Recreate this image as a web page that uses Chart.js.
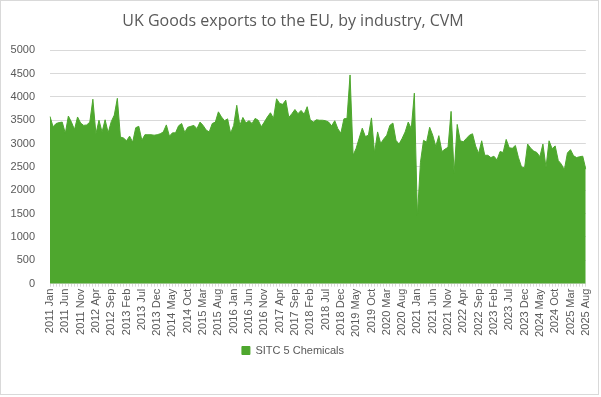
<!DOCTYPE html>
<html>
<head>
<meta charset="utf-8">
<script src="https://cdn.jsdelivr.net/npm/chart.js@4"></script>
<style>
  html, body { margin: 0; padding: 0; background: #fff; }
  #wrap { width: 601px; height: 397px; position: relative; }
</style>
</head>
<body>
<div id="wrap"><canvas id="myChart" width="601" height="397"></canvas></div>
<script>
// monthly values, Jan..Dec
const exports2011 = [3580, 3360, 3430, 3450, 3460, 3220, 3590, 3460, 3300, 3570, 3440, 3390];
const exports2012 = [3400, 3460, 3950, 3210, 3500, 3250, 3510, 3230, 3470, 3610, 3970, 3140];
const exports2013 = [3120, 3060, 3160, 3030, 3340, 3370, 3070, 3190, 3190, 3190, 3180, 3190];
const exports2014 = [3210, 3250, 3400, 3160, 3230, 3230, 3380, 3430, 3240, 3350, 3370, 3390];
const exports2015 = [3320, 3460, 3390, 3290, 3250, 3430, 3460, 3680, 3570, 3490, 3530, 3220];
const exports2016 = [3390, 3820, 3390, 3560, 3440, 3490, 3430, 3540, 3500, 3360, 3460, 3570];
const exports2017 = [3660, 3540, 3960, 3860, 3840, 3930, 3560, 3640, 3730, 3640, 3710, 3630];
const exports2018 = [3790, 3510, 3460, 3510, 3500, 3500, 3490, 3460, 3380, 3490, 3320, 3220];
const exports2019 = [3530, 3540, 4470, 2750, 2900, 3120, 3330, 3150, 3180, 3550, 2800, 3250];
const exports2020 = [3000, 3100, 3180, 3390, 3440, 3070, 2990, 3110, 3250, 3460, 3320, 4080];
const exports2021 = [1450, 2600, 3070, 3030, 3350, 3180, 2940, 3170, 2830, 2880, 2920, 3690];
const exports2022 = [2360, 3410, 3060, 3040, 3110, 3180, 3210, 2950, 2790, 3060, 2750, 2750];
const exports2023 = [2700, 2730, 2650, 2830, 2810, 3090, 2910, 2900, 2960, 2700, 2500, 2480];
const exports2024 = [2990, 2900, 2840, 2810, 2720, 2990, 2490, 3060, 2890, 2950, 2640, 2560];
const exports2025 = [2440, 2800, 2870, 2740, 2700, 2720, 2730, 2450];

const years = [2011, 2012, 2013, 2014, 2015, 2016, 2017, 2018, 2019, 2020, 2021, 2022, 2023, 2024, 2025];
const monthNames = ["Jan", "Feb", "Mar", "Apr", "May", "Jun", "Jul", "Aug", "Sep", "Oct", "Nov", "Dec"];

// the labels Excel shows under the axis
const tickLabels = [
  "2011 Jan", "2011 Jun", "2011 Nov", "2012 Apr", "2012 Sep", "2013 Feb", "2013 Jul", "2013 Dec",
  "2014 May", "2014 Oct", "2015 Mar", "2015 Aug", "2016 Jan", "2016 Jun", "2016 Nov", "2017 Apr",
  "2017 Sep", "2018 Feb", "2018 Jul", "2018 Dec", "2019 May", "2019 Oct", "2020 Mar", "2020 Aug",
  "2021 Jan", "2021 Jun", "2021 Nov", "2022 Apr", "2022 Sep", "2023 Feb", "2023 Jul", "2023 Dec",
  "2024 May", "2024 Oct", "2025 Mar", "2025 Aug"
];

const seriesName = "SITC 5 Chemicals";

const yearly = [exports2011, exports2012, exports2013, exports2014, exports2015, exports2016, exports2017,
  exports2018, exports2019, exports2020, exports2021, exports2022, exports2023, exports2024, exports2025];

const categories = [];
const values = [];
yearly.forEach((arr, y) => {
  arr.forEach((v, m) => {
    categories.push(years[y] + " " + monthNames[m]);
    values.push(v);
  });
});

const textCol = "#595959";
const gridCol = "#d9d9d9";

const frame = {
  id: "frame",
  beforeDraw(chart) {
    const c = chart.ctx;
    c.save();
    c.fillStyle = "#fff";
    c.fillRect(0, 0, chart.width, chart.height);
    c.strokeStyle = "#d9d9d9";
    c.lineWidth = 1;
    c.strokeRect(0.5, 0.5, chart.width - 3, chart.height - 3);
    c.restore();
  }
};

const ctx = document.getElementById("myChart").getContext("2d");
new Chart(ctx, {
  type: "line",
  data: {
    labels: categories,
    datasets: [{
      label: seriesName,
      data: values,
      borderColor: "#4ea72e",
      backgroundColor: "#4ea72e",
      borderWidth: 1,
      pointRadius: 0,
      fill: "origin",
      tension: 0
    }]
  },
  options: {
    responsive: false,
    animation: false,
    devicePixelRatio: 1,
    layout: { padding: { left: 0, right: 15, top: 0, bottom: 31 } },
    plugins: {
      title: {
        display: true,
        text: "UK Goods exports to the EU, by industry, CVM",
        color: textCol,
        font: { family: "'Open Sans', sans-serif", size: 16, weight: "normal" },
        padding: { top: 12, bottom: 19 }
      },
      legend: {
        position: "bottom",
        labels: {
          color: textCol,
          boxWidth: 8,
          boxHeight: 8,
          padding: 6,
          font: { family: "'Liberation Sans', Arial, sans-serif", size: 11 }
        }
      },
      tooltip: { enabled: false }
    },
    scales: {
      x: {
        offset: false,
        grid: { display: true, drawOnChartArea: false, drawTicks: true, tickLength: 3, color: gridCol },
        border: { display: true, color: gridCol },
        ticks: {
          autoSkip: false,
          maxRotation: 90,
          minRotation: 90,
          padding: 2,
          color: textCol,
          font: { family: "'Liberation Sans', Arial, sans-serif", size: 11 },
          callback: function (v, i) {
            const lab = categories[i];
            return tickLabels.includes(lab) ? lab : "";
          }
        }
      },
      y: {
        min: 0,
        max: 5000,
        ticks: {
          stepSize: 500,
          padding: 15,
          color: textCol,
          font: { family: "'Liberation Sans', Arial, sans-serif", size: 11 },
          callback: function (v) { return String(v); }
        },
        grid: { color: gridCol, drawTicks: false, lineWidth: 1 },
        border: { display: false },
        afterFit: function (scale) { scale.width = 50; }
      }
    }
  },
  plugins: [frame]
});
</script>
</body>
</html>
